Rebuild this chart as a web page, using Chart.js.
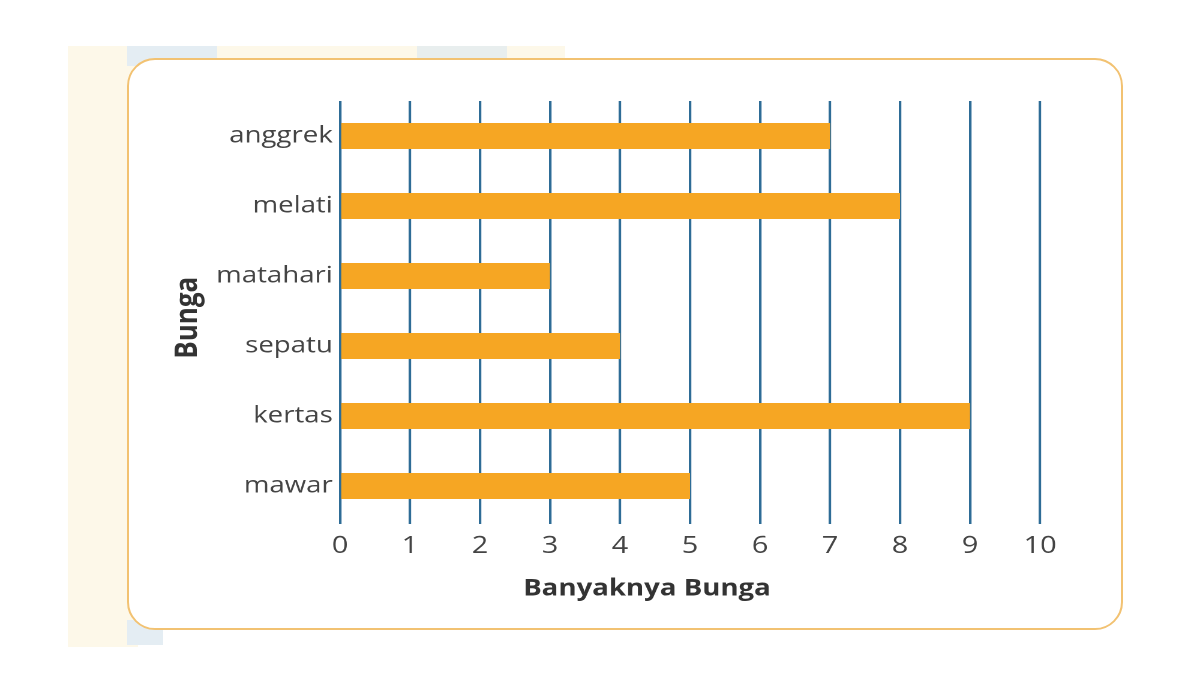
<!DOCTYPE html>
<html>
<head>
<meta charset="utf-8">
<script src="https://cdn.jsdelivr.net/npm/chart.js@4.4.0/dist/chart.umd.min.js"></script>
<style>
  html, body { margin: 0; padding: 0; background: #fff; }
  #page { position: relative; width: 1200px; height: 675px; overflow: hidden; }
  .patch { position: absolute; }
  #card {
    position: absolute; left: 127px; top: 58px; width: 992px; height: 568px;
    border: 2.5px solid #f2c272; border-radius: 28px; background: #fff;
  }
  /* the picture is stretched sideways, so the chart is drawn 1000 wide and scaled up */
  #wrap {
    position: absolute; left: 0; top: 0; width: 1000px; height: 675px;
    transform: scaleX(1.2); transform-origin: 0 0;
  }
</style>
</head>
<body>
<div id="page">
  <div class="patch" style="left:68px;top:46px;width:70px;height:601px;background:#fdf8e9;"></div>
  <div class="patch" style="left:127px;top:46px;width:438px;height:20px;background:#fdf8e9;"></div>
  <div class="patch" style="left:127px;top:46px;width:90px;height:20px;background:#e4edf3;"></div>
  <div class="patch" style="left:417px;top:46px;width:90px;height:20px;background:#e8eeee;"></div>
  <div class="patch" style="left:127px;top:620px;width:36px;height:25px;background:#e4edf3;"></div>
  <div id="card"></div>
  <div id="wrap"><canvas id="graph"></canvas></div>
</div>
<script>
const categories = ['anggrek', 'melati', 'matahari', 'sepatu', 'kertas', 'mawar'];
const counts = [7, 8, 3, 4, 9, 5];
const xTicks = [0, 1, 2, 3, 4, 5, 6, 7, 8, 9, 10];

// Configuring chart
const graph = document.getElementById('graph');
new Chart(graph, {
   type: 'bar',
   data: {
      labels: categories,
      datasets: [{
         label: 'Banyaknya Bunga',
         data: counts,
         backgroundColor: '#f6a623',
         borderWidth: 0,
         barPercentage: 0.37,
         categoryPercentage: 1
      }]
   },
   options: {
      indexAxis: 'y',
      responsive: true,
      maintainAspectRatio: false,
      animation: false,
      devicePixelRatio: 2,
      layout: {
         padding: { left: 138, right: 133.3, top: 101, bottom: 64 }
      },
      scales: {
         x: {
            min: 0,
            max: 10,
            afterBuildTicks: (scale) => { scale.ticks = xTicks.map(v => ({ value: v })); },
            afterFit: (scale) => { scale.height = 90; },
            grid: {
               color: '#2e6c96',
               lineWidth: 2.1,
               tickLength: 3,
               drawTicks: true
            },
            border: { display: false },
            ticks: {
               padding: 8,
               color: '#444',
               font: { family: 'Open Sans', size: 24 }
            },
            title: {
               display: true,
               // trailing spaces push the title a bit left of centre, as in the picture
               text: 'Banyaknya Bunga' + ' '.repeat(12),
               color: '#333',
               font: { family: 'Open Sans', size: 23, weight: 'bold' },
               padding: { top: 0, bottom: 8 }
            }
         },
         y: {
            afterFit: (scale) => { scale.width = 145.3; },
            grid: { display: false, drawTicks: false },
            border: { display: false },
            ticks: {
               padding: 6,
               color: '#444',
               font: { family: 'Open Sans', size: 23 }
            },
            title: {
               display: true,
               text: 'Bunga' + '  ',
               color: '#333',
               font: { family: 'Open Sans', size: 26, weight: 'bold' },
               padding: { top: 3, bottom: 0 }
            }
         }
      },
      plugins: {
         legend: { display: false },
         tooltip: { enabled: false }
      }
   }
});
</script>
</body>
</html>
